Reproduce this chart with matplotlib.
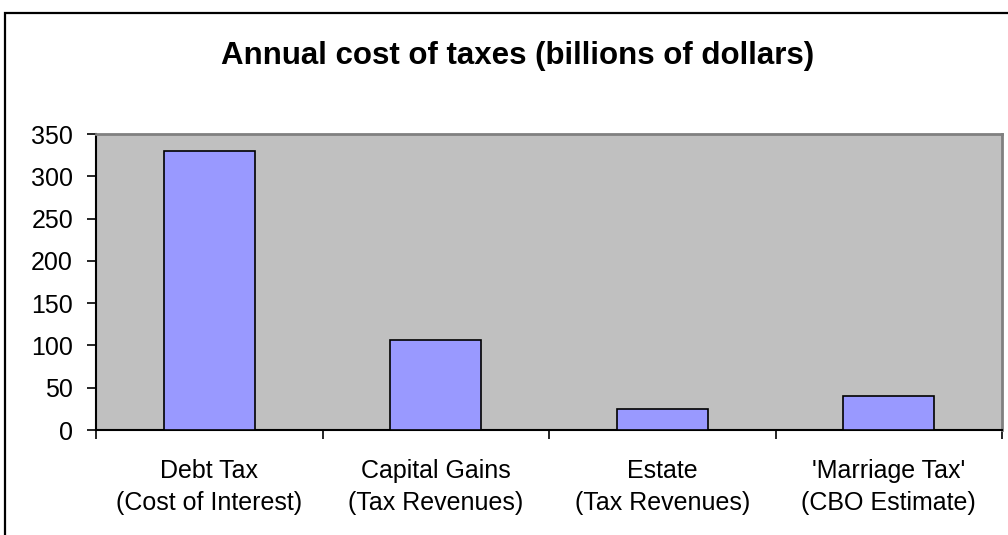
import matplotlib.pyplot as plt
from matplotlib.patches import Rectangle

plt.rcParams['font.family'] = ['Liberation Sans', 'DejaVu Sans']

# Annual cost of each tax, billions of dollars
categories = ['Debt Tax\n(Cost of Interest)', 'Capital Gains\n(Tax Revenues)',
              'Estate\n(Tax Revenues)', "'Marriage Tax'\n(CBO Estimate)"]
costs = [330, 106, 25, 40]
y_ticks = [0, 50, 100, 150, 200, 250, 300, 350]

fig = plt.figure(figsize=(10.08, 5.35), dpi=100)
fig.patch.set_facecolor('white')

# chart frame (runs off the right and bottom edges)
frame = Rectangle((4.5 / 1008, -0.2), 1.1, 1.2 - 13 / 535,
                  transform=fig.transFigure, fill=False, edgecolor='black',
                  linewidth=1.6, clip_on=False)
fig.patches.append(frame)

ax = fig.add_axes([96 / 1008, 1 - 430 / 535, (1002 - 96) / 1008, (430 - 134) / 535])
ax.set_facecolor('#C0C0C0')

x = list(range(len(costs)))
ax.bar(x, costs, width=0.4, color='#9999FF', edgecolor='black', linewidth=1.2, zorder=3)

ax.set_xlim(-0.5, len(costs) - 0.5)
ax.set_ylim(0, 350)
ax.set_yticks(y_ticks)
ax.tick_params(axis='y', direction='out', length=6.5, width=1.2, labelsize=18, pad=10)

# labels centred under bars, ticks on category boundaries
ax.set_xticks(x)
ax.set_xticklabels(categories, fontsize=18, linespacing=1.4)
ax.tick_params(axis='x', which='major', length=0, pad=21)
ax.set_xticks([i - 0.5 for i in range(len(costs) + 1)], minor=True)
ax.tick_params(axis='x', which='minor', direction='out', length=6.5, width=1.2)

for side in ['top', 'right']:
    ax.spines[side].set_color('#808080')
    ax.spines[side].set_linewidth(2)
for side in ['left', 'bottom']:
    ax.spines[side].set_color('black')
    ax.spines[side].set_linewidth(1.5)

fig.text(518 / 1008, 1 - 64 / 535, 'Annual cost of taxes (billions of dollars)',
         ha='center', va='baseline', fontsize=22.5, fontweight='bold')

fig.savefig('out.png', dpi=100)
